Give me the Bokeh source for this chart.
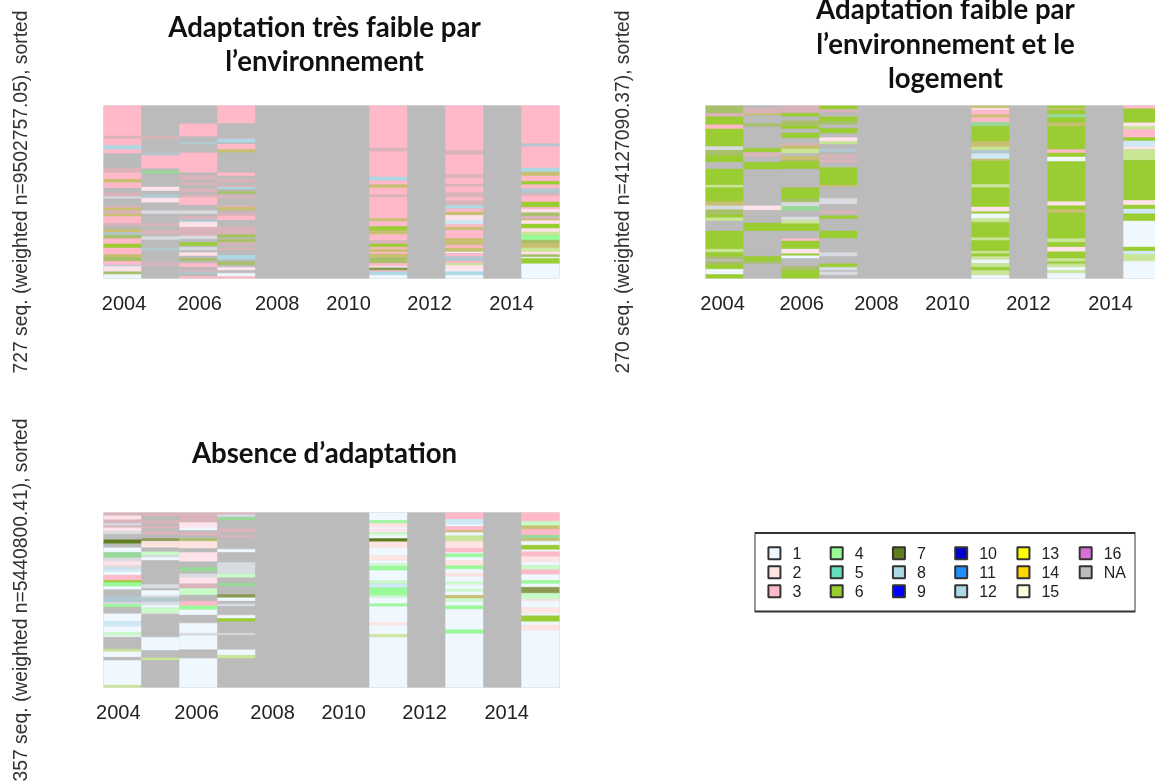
from bokeh.plotting import figure
from bokeh.layouts import column, row
from bokeh.models import ColumnDataSource, Range1d, FixedTicker, BoxAnnotation
from bokeh.embed import file_html
from bokeh.resources import INLINE
from bokeh.core.properties import value

# band readings: (state, end position along the sorted sequence index)
# "a/b" marks a thin band where two states are blended in the picture
p1_2004 = [("3",122),("3/NA",130),("3",150),("8",162),("3",175),("NA",218),("3/NA",232),("3",252),("6/3",262),("3",278),("NA",292),("3/NA",304),("1/NA",310),("NA",332),("3/NA",338),("6/3",346),("3/NA",356),("6/3",364),("3",384),("3/NA",392),("NA",402),("6/3",412),("8/NA",420),("6/NA",430),("3",446),("6",458),("3",478),("6/3",486),("6/NA",498),("3",510),("8",514),("1/3",530),("6/NA",538),("1",550)]
p1_2005 = [("NA",122),("3/NA",132),("NA",172),("8/NA",180),("3",220),("NA",226),("4/NA",235),("NA",275),("1/3",287),("NA",296),("8/NA",308),("1/3",322),("NA",346),("1/NA",356),("NA",384),("3/NA",394),("NA",405),("3/NA",418),("NA",424),("1/NA",434),("NA",458),("8/NA",468),("NA",503),("3/NA",513),("NA",550)]
p1_2006 = [("NA",85),("3",124),("NA",140),("8/NA",148),("NA",172),("3",232),("NA",240),("3/NA",254),("NA",260),("3/NA",270),("NA",280),("3/NA",292),("NA",298),("3/NA",306),("3",330),("NA",346),("1/NA",356),("NA",362),("3/NA",372),("8/NA",380),("1/3",396),("3/NA",412),("3/NA",422),("1/NA",432),("NA",442),("6",452),("NA",456),("1/NA",466),("NA",472),("1/3",482),("NA",490),("6/NA",498),("NA",504),("3",516),("NA",524),("3/NA",530),("8/NA",536),("NA",544),("3",550)]
p1_2007 = [("3",84),("NA",126),("3/NA",130),("8",142),("NA",146),("3",162),("6/3",172),("NA",232),("3",242),("NA",252),("3/NA",262),("NA",270),("3/NA",276),("8",282),("NA",288),("6/NA",296),("NA",300),("3/NA",310),("NA",330),("3/NA",336),("6/3",346),("NA",352),("3/NA",362),("3",376),("NA",394),("3/NA",418),("6/NA",428),("NA",432),("6/NA",442),("3/NA",450),("NA",458),("3/NA",466),("NA",480),("8",494),("NA",500),("6/NA",510),("NA",516),("1/3",526),("NA",534),("1",544),("3",550)]
p1_2011 = [("3",158),("3/NA",168),("3",245),("8",256),("3",268),("6/3",278),("3",298),("3/NA",306),("3",370),("6/3",378),("3",394),("6",406),("6/3",418),("3",436),("3/NA",446),("6",456),("3",462),("6/3",470),("3",476),("6/3",488),("6/NA",504),("3",514),("1",518),("7/NA",526),("3",530),("8",540),("1",550)]
p1_2013 = [("3",166),("3/NA",178),("3",238),("3/NA",248),("3",266),("3/NA",274),("3",292),("3/NA",306),("3",316),("3/NA",330),("8",340),("3",350),("6/3",360),("1/3",376),("1/8",388),("3",396),("6/3",404),("3",430),("6/3",450),("3",458),("6/3",470),("1",474),("3",484),("8/NA",498),("3",504),("6/1",510),("1/3",526),("1",530),("8",540),("1",550)]
p1_2015 = [("3",145),("8/NA",153),("3",218),("8",230),("6/3",242),("3",258),("6",268),("3",280),("8/NA",294),("3/NA",302),("3",320),("6",336),("3",342),("1/3",352),("6/NA",362),("3/NA",372),("6/3",376),("1/3",386),("6",400),("1/3",410),("6/1",420),("4",434),("6/NA",444),("6/3",458),("6/1",470),("1/3",478),("6/NA",486),("1",490),("6",506),("1",550)]

p2_2004 = [("6/NA",55),("3/NA",66),("6",90),("3",102),("6",155),("1/NA",166),("6/NA",182),("6",202),("NA",222),("6",270),("6/1",278),("6",320),("6/3",332),("1/NA",344),("6/NA",360),("6",368),("6/1",378),("NA",408),("6",462),("6/1",472),("6",484),("6/NA",492),("NA",500),("6/NA",508),("6",522),("1",538),("6",550)]
p2_2005 = [("NA",40),("3/NA",56),("6/3",62),("NA",86),("6/NA",96),("NA",160),("6",172),("3/NA",186),("NA",202),("6",224),("NA",332),("1/3",346),("NA",384),("6",408),("NA",484),("6",498),("6/NA",506),("NA",550)]
p2_2006 = [("3/NA",55),("6",66),("NA",78),("6/NA",92),("6",102),("NA",114),("6",130),("NA",146),("3/NA",152),("6/3",162),("6/1",176),("NA",184),("6/3",196),("6/NA",200),("6",222),("NA",278),("6",312),("6/NA",322),("1/NA",334),("4/NA",348),("NA",366),("1/NA",376),("6/1",386),("6",408),("NA",430),("3",438),("6",462),("1/3",476),("6",482),("1",490),("NA",514),("6/NA",526),("6",550)]
p2_2007 = [("6",44),("3/NA",54),("NA",66),("6",80),("6/NA",90),("NA",100),("6",116),("NA",128),("1/3",140),("6/1",148),("NA",162),("8/NA",172),("NA",180),("3/NA",190),("NA",194),("3/NA",204),("NA",218),("6",270),("6/3",276),("NA",310),("1/NA",328),("NA",346),("3/NA",356),("NA",362),("6",372),("NA",408),("6",430),("NA",472),("1/NA",484),("NA",506),("6",516),("1/NA",526),("NA",530),("1/NA",540),("NA",550)]
p2_2011 = [("6/3",40),("1/3",46),("3",60),("6/3",68),("3",82),("4/NA",94),("6",140),("6/3",156),("6/1",166),("8/NA",176),("1/8",192),("6/3",198),("6",268),("6/1",278),("6",336),("1/3",350),("6",356),("1",370),("6/1",382),("6",428),("6/1",436),("6",468),("6/1",476),("6",484),("6/1",494),("1",504),("6/1",516),("6",526),("6/1",540),("1",550)]
p2_2013 = [("6",40),("6/3",46),("6",58),("4/NA",68),("6",84),("6/3",94),("6",164),("3",174),("6",186),("1",200),("6",320),("1/3",332),("6",344),("6/3",354),("6",430),("6/1",442),("6",456),("1/3",470),("6",490),("6/1",500),("6",506),("6/1",516),("1",526),("6/1",534),("1",550)]
p2_2015 = [("3",42),("6",84),("1/3",94),("6/1",104),("3",128),("6",138),("1/8",156),("1/3",164),("6/1",196),("6",316),("1/3",330),("6",342),("1/8",356),("6",378),("1",456),("6",468),("1/8",478),("6/1",498),("1",550)]

p3_2004 = [("3/NA",32),("1/3",44),("3/NA",54),("1/NA",62),("3/NA",68),("1/3",78),("1/NA",88),("NA",104),("7",116),("NA",128),("1",142),("4/NA",158),("1/NA",168),("1/3",182),("1/NA",190),("1/8",200),("1",210),("3",226),("6",232),("4",244),("1",254),("NA",274),("8/NA",292),("1/NA",298),("4",306),("NA",326),("1",348),("1/8",364),("1",382),("4/1",392),("1",396),("NA",432),("6/1",440),("1",456),("NA",466),("1",540),("6/1",547)]
p3_2005 = [("3/NA",34),("NA",46),("3/NA",56),("NA",62),("3/NA",70),("NA",78),("3/NA",88),("NA",100),("7/NA",108),("1/3",114),("2",128),("NA",140),("4/1",150),("1/NA",156),("1",166),("NA",238),("1/NA",250),("NA",256),("1",272),("1/NA",278),("8/NA",290),("1/NA",300),("1",308),("4/1",324),("1/NA",328),("NA",396),("1",436),("NA",458),("6/1",466),("NA",547)]
p3_2006 = [("3/NA",52),("1/3",66),("1",76),("NA",82),("3/NA",92),("NA",100),("6/NA",108),("2",130),("NA",142),("1/3",170),("NA",186),("4/NA",200),("NA",206),("1/NA",218),("1/3",236),("3/NA",250),("4/1",270),("NA",288),("3",302),("4",314),("1",330),("NA",354),("1",384),("1/NA",392),("1",434),("NA",460),("1",547)]
p3_2007 = [("3/NA",28),("1/NA",36),("4/NA",46),("NA",70),("3/NA",82),("NA",90),("3/NA",98),("NA",132),("1",142),("NA",172),("1/NA",206),("4/1",218),("NA",234),("4/NA",244),("NA",268),("7/NA",278),("1",288),("NA",296),("1/NA",304),("NA",330),("1",340),("6",350),("NA",384),("1/NA",390),("NA",434),("1",450),("6/1",460),("NA",547)]
p3_2011 = [("1",46),("4",54),("2",66),("1",72),("1/3",82),("4/1",90),("1",100),("7",110),("2",128),("1",152),("2",166),("1",176),("4/1",184),("4",196),("1",226),("4/1",236),("1/8",248),("4",270),("4/1",278),("1",296),("4",304),("1",352),("2",360),("1",388),("6/1",396),("1",547)]
p3_2013 = [("3",42),("1/8",58),("1",64),("3",76),("6/3",82),("1",92),("6/1",108),("2",130),("3",142),("1",146),("4",156),("1",166),("2",182),("4",192),("1",204),("2",214),("1",230),("4/1",238),("1",252),("4/1",260),("1",270),("6/3",280),("4/1",290),("1",302),("4",312),("1",374),("4",386),("1",547)]
p3_2015 = [("3",48),("4/1",62),("6/3",72),("3",90),("4/NA",100),("6/3",108),("1",120),("6",134),("1",140),("3",154),("2",170),("1",180),("4/1",194),("3",208),("1",226),("4",236),("1",246),("7/NA",264),("4/1",282),("2",288),("1",308),("2",324),("1",332),("6",350),("1",360),("2",376),("1",547)]

years = list(range(2004, 2016))
tick_labels = ["2004", "2006", "2008", "2010", "2012", "2014"]
p1_ticks = [2004.04, 2006.03, 2008.07, 2009.95, 2012.08, 2014.24]
p2_ticks = [2003.95, 2006.03, 2008.00, 2009.87, 2012.00, 2014.16]
p3_ticks = [2003.89, 2005.95, 2007.95, 2009.82, 2011.95, 2014.11]

legend_states = ["1","2","3","4","5","6","7","8","9","10","11","12","13","14","15","16","NA"]
colors = {"1":"#F0F8FF","2":"#FFE4E1","3":"#FFB9C8","4":"#98FB98","5":"#66DDBB","6":"#9ACD32","7":"#5F7F1E",
          "8":"#ADD8E6","9":"#0000FF","10":"#0000CD","11":"#1E90FF","12":"#ADD8E6","13":"#FFFF00","14":"#FFD700",
          "15":"#FFFFE0","16":"#DA70D6","NA":"#BBBBBB",
          "3/NA":"#D9B4BA","6/3":"#C8C070","8/NA":"#B2C8D0","1/NA":"#D8DCE0","6/NA":"#A8C068","1/3":"#FFE3EA",
          "6/1":"#C8E696","4/NA":"#98D898","1/8":"#CFE8F5","4/1":"#C8FBC8","7/NA":"#8A9A50"}

COL = 38.0
FONT = "Liberation Sans"
BLUR = {"filter": "blur(0.5px)"}


def panel(cols, y0, y1, ticks, ylabel, titles, width, height, left, top, frame_w, frame_h):
    p = figure(width=width, height=height, x_range=Range1d(2003.5, 2003.5 + frame_w / COL), y_range=Range1d(y1, y0),
               output_backend="svg", toolbar_location=None, min_border_left=left, min_border_top=top,
               min_border_right=width - left - frame_w, min_border_bottom=height - top - frame_h, styles=BLUR)
    l, r, t, b, c = [], [], [], [], []
    for yr in years:
        start = y0
        for st, end in cols.get(yr, [("NA", y1)]):
            l.append(yr - 0.5); r.append(yr + 0.5); t.append(start); b.append(end); c.append(colors[st])
            start = end
    p.background_fill_color = colors["NA"]
    p.quad(left="l", right="r", top="t", bottom="b", fill_color="c", line_color="c", line_width=0.4,
           source=ColumnDataSource(dict(l=l, r=r, t=t, b=b, c=c)))
    p.grid.visible = False
    p.outline_line_color = None
    ax = p.xaxis[0]
    ax.ticker = FixedTicker(ticks=ticks)
    ax.major_label_overrides = dict(zip(ticks, tick_labels))
    ax.major_tick_line_color = None
    ax.minor_tick_line_color = None
    ax.axis_line_color = None
    ax.major_label_standoff = 11
    ax.major_label_text_font = FONT
    ax.major_label_text_font_size = "20px"
    ax.major_label_text_color = "#222222"
    ay = p.yaxis[0]
    ay.ticker = FixedTicker(ticks=[])
    ay.axis_line_color = None
    ay.major_tick_line_color = None
    ay.minor_tick_line_color = None
    ay.axis_label = ylabel
    ay.axis_label_standoff = 73
    ay.axis_label_text_font = FONT
    ay.axis_label_text_font_size = "19.3px"
    ay.axis_label_text_font_style = "normal"
    ay.axis_label_text_color = "#333333"
    unit = (y1 - y0) / frame_h
    p.text(x=[2003.5 + (cx - left) / COL for _, cx, _ in titles], y=[y0 + (py - top) * unit for _, _, py in titles],
           text=[t_[0] for t_ in titles], level="overlay", text_align="center", text_baseline="middle",
           text_font=value("Lato"), text_font_style="bold", text_font_size="27.6px", text_color="#111111")
    return p


p1 = panel({2004: p1_2004, 2005: p1_2005, 2006: p1_2006, 2007: p1_2007, 2011: p1_2011, 2013: p1_2013, 2015: p1_2015},
           30, 550, p1_ticks, "727 seq. (weighted n=9502757.05), sorted",
           [("Adaptation très faible par", 324, 26), ("l’environnement", 324, 60)],
           600, 400, 103, 105, 456, 173)
p2 = panel({2004: p2_2004, 2005: p2_2005, 2006: p2_2006, 2007: p2_2007, 2011: p2_2011, 2013: p2_2013, 2015: p2_2015},
           32, 550, p2_ticks, "270 seq. (weighted n=4127090.37), sorted",
           [("Adaptation faible par", 345, 8), ("l’environnement et le", 345, 43), ("logement", 345, 77)],
           555, 400, 105, 105, 450, 173)
p3 = panel({2004: p3_2004, 2005: p3_2005, 2006: p3_2006, 2007: p3_2007, 2011: p3_2011, 2013: p3_2013, 2015: p3_2015},
           22, 547, p3_ticks, "357 seq. (weighted n=5440800.41), sorted",
           [("Absence d’adaptation", 324, 52)],
           600, 382, 103, 112, 456, 175)

# legend panel: six columns of up to three rows; frame shares the height of the panel beside it
p4 = figure(width=555, height=382, x_range=Range1d(-0.32, 5.80), y_range=Range1d(7.07, -2.14), output_backend="svg",
            toolbar_location=None, min_border_left=154, min_border_right=20, min_border_top=112, min_border_bottom=95,
            styles=BLUR)
p4.add_layout(BoxAnnotation(left=-0.32, right=5.80, top=-1.06, bottom=3.07, fill_color=None,
                            line_color="#333333", line_alpha=1, line_width=2))
lx = [i // 3 for i in range(len(legend_states))]
ly = [i % 3 for i in range(len(legend_states))]
src = ColumnDataSource(dict(x=lx, y=ly, s=legend_states, c=[colors[s] for s in legend_states]))
p4.scatter("x", "y", source=src, marker="square", size=12, fill_color="c", line_color="#333333", line_width=2)
p4.text("x", "y", text="s", source=src, x_offset=18, text_baseline="middle", text_font=value(FONT),
        text_font_size="16px", text_color="#222222")
p4.axis.visible = False
p4.grid.visible = False
p4.outline_line_color = None

root = column(row(p1, p2, spacing=0), row(p3, p4, spacing=0), spacing=0)
open("out.html", "w").write(file_html(root, INLINE))
